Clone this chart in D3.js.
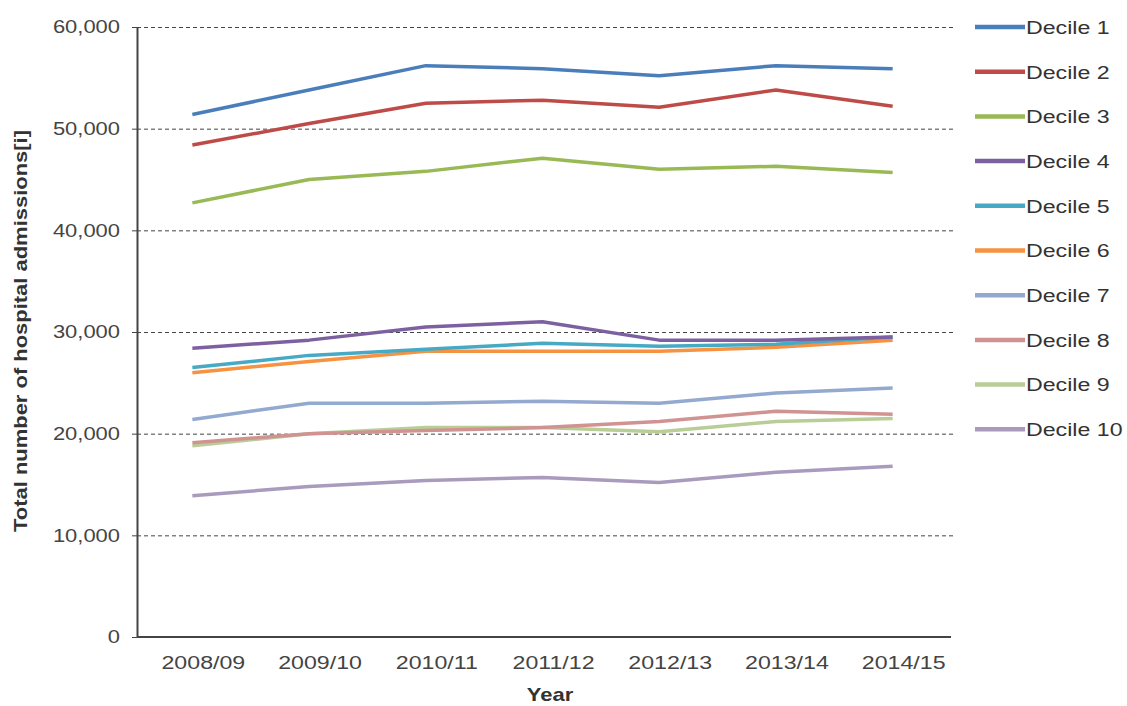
<!DOCTYPE html>
<html>
<head>
<meta charset="utf-8">
<script src="https://cdnjs.cloudflare.com/ajax/libs/d3/7.8.5/d3.min.js"></script>
<style>
  body { margin: 0; background: #fff; }
  svg text { font-family: "Liberation Sans", Arial, sans-serif; fill: #333; }
</style>
</head>
<body>
<div id="chart"></div>
<script>
var years = ["2008/09", "2009/10", "2010/11", "2011/12", "2012/13", "2013/14", "2014/15"];
var deciles = ["Decile 1", "Decile 2", "Decile 3", "Decile 4", "Decile 5",
               "Decile 6", "Decile 7", "Decile 8", "Decile 9", "Decile 10"];
var colors = ["#4a7ebb", "#be4b48", "#98b954", "#7d60a0", "#46aac5",
              "#f69240", "#93a9cf", "#d09392", "#b9cd96", "#a99bbd"];

var decile1 = [51400, 53800, 56200, 55900, 55200, 56200, 55900];
var decile2 = [48400, 50500, 52500, 52800, 52100, 53800, 52200];
var decile3 = [42700, 45000, 45800, 47100, 46000, 46300, 45700];
var decile4 = [28400, 29200, 30500, 31000, 29200, 29200, 29500];
var decile5 = [26500, 27700, 28300, 28900, 28600, 28800, 29500];
var decile6 = [26000, 27100, 28100, 28100, 28100, 28500, 29200];
var decile7 = [21400, 23000, 23000, 23200, 23000, 24000, 24500];
var decile8 = [19100, 20000, 20300, 20600, 21200, 22200, 21900];
var decile9 = [18800, 20000, 20600, 20600, 20200, 21200, 21500];
var decile10 = [13900, 14800, 15400, 15700, 15200, 16200, 16800];
var series = [decile1, decile2, decile3, decile4, decile5,
              decile6, decile7, decile8, decile9, decile10];
var yTicks = [0, 10000, 20000, 30000, 40000, 50000, 60000];

var W = 1127, H = 706;
var mLeft = 137, mRight = 951, mTop = 27, mBottom = 637;
var stretch = 1.22; // the source image is a bit wider than tall

var svg = d3.select("#chart").append("svg").attr("width", W).attr("height", H);

var x = d3.scaleBand().domain(years).range([mLeft - 3, mRight]);
var y = d3.scaleLinear().domain([0, 60000]).range([mBottom, mTop]);
var fmt = d3.format(",");

// gridlines
svg.append("g")
    .selectAll("line")
    .data(yTicks.filter(function (d) { return d > 0; }))
    .enter().append("line")
    .attr("x1", mLeft).attr("x2", mRight + 2)
    .attr("y1", function (d) { return y(d) + 0.5; })
    .attr("y2", function (d) { return y(d) + 0.5; })
    .style("stroke", "#444")
    .style("stroke-width", 1)
    .style("stroke-dasharray", "4,3");

// y axis
var yAxis = svg.append("g")
    .attr("transform", "translate(" + mLeft + ",0)")
    .call(d3.axisLeft(y).tickValues(yTicks).tickFormat(fmt).tickSize(5).tickSizeOuter(0));
yAxis.select(".domain").style("stroke", "#444").style("stroke-width", 2);
yAxis.selectAll(".tick line").style("stroke", "#444");
yAxis.selectAll("text")
    .attr("x", -17 / stretch)
    .attr("transform", "scale(" + stretch + ",1)")
    .style("font-size", "18px").style("fill", "#444");

// x axis (labels sit a little right of the points, as in the original)
var xAxis = svg.append("g")
    .attr("transform", "translate(0," + mBottom + ")")
    .call(d3.axisBottom(x).tickSize(0).tickPadding(19).tickSizeOuter(0));
xAxis.select(".domain").attr("d", "M" + mLeft + ",0H" + mRight)
    .style("stroke", "#444").style("stroke-width", 2);
xAxis.selectAll("text")
    .attr("x", 11 / stretch)
    .attr("transform", "scale(" + stretch + ",1)")
    .style("font-size", "19px").style("fill", "#444");

// axis titles
svg.append("text")
    .attr("transform", "translate(" + ((mLeft + mRight) / 2 + 6) + ",701) scale(" + stretch + ",1)")
    .attr("text-anchor", "middle")
    .style("font-size", "18px").style("font-weight", "bold")
    .text("Year");
svg.append("text")
    .attr("transform", "translate(27," + ((mTop + mBottom) / 2 - 1) + ") rotate(-90) scale(" + stretch + ",1)")
    .attr("text-anchor", "middle")
    .style("font-size", "18px").style("font-weight", "bold")
    .text("Total number of hospital admissions[i]");

// lines (lowest deciles first so the upper ones sit on top)
var line = d3.line()
    .x(function (d, i) { return x(years[i]) + x.bandwidth() / 2; })
    .y(function (d) { return y(d); });

d3.range(series.length).reverse().forEach(function (k) {
    svg.append("path")
        .datum(series[k])
        .attr("d", line)
        .style("fill", "none")
        .style("stroke", colors[k])
        .style("stroke-width", 3.5)
        .style("stroke-linejoin", "round");
});

// legend
var legend = svg.append("g").attr("transform", "translate(975,27)");
var row = legend.selectAll("g")
    .data(deciles)
    .enter().append("g")
    .attr("transform", function (d, i) { return "translate(0," + (i * 44.7) + ")"; });
row.append("line")
    .attr("x1", 0).attr("x2", 50).attr("y1", 0).attr("y2", 0)
    .style("stroke", function (d, i) { return colors[i]; })
    .style("stroke-width", 4.5);
row.append("text")
    .attr("transform", "translate(51,0) scale(" + stretch + ",1)")
    .attr("dy", "0.36em")
    .style("font-size", "19px").style("fill", "#333")
    .text(function (d) { return d; });
</script>
</body>
</html>
